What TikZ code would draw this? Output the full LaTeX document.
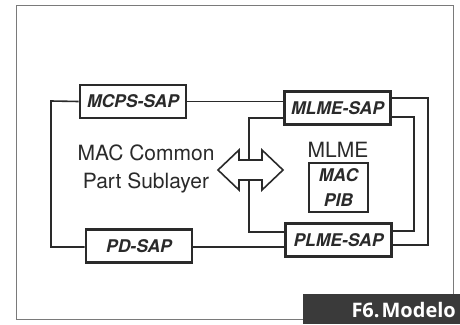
\documentclass[tikz,border=0pt]{standalone}
\usepackage{fontspec}
\setmainfont{TeX Gyre Heros}
\newfontfamily\labfont{Open Sans}
\definecolor{ink}{HTML}{2A2A2A}
\definecolor{framegray}{HTML}{7A7A7A}
\definecolor{tagbg}{HTML}{3A3A3A}
\begin{document}
\begin{tikzpicture}[x=1pt,y=-1pt,
  sapbox/.style={draw=ink,line width=2.8pt,fill=white,inner sep=0pt,
    minimum width=106pt,minimum height=33pt,
    font=\fontsize{17.5}{20}\selectfont\bfseries\itshape,text=ink},
  pibbox/.style={draw=ink,line width=2.8pt,fill=white,inner sep=0pt,
    minimum width=59pt,minimum height=49pt,align=center,
    font=\fontsize{17.5}{25}\selectfont\bfseries\itshape,text=ink},
  plain/.style={inner sep=0pt,align=center,text=ink,
    font=\fontsize{21}{28}\selectfont},
  conn/.style={draw=ink,line width=1.6pt},
  dblarrow/.style={draw=ink,line width=1.6pt,fill=white,line join=miter},
  tagtext/.style={inner sep=0pt,text=white,font=\labfont\bfseries\fontsize{20}{24}\selectfont}]
\useasboundingbox (0,0) rectangle (460,324);
\fill[white] (0,0) rectangle (460,324);
% outer frame
\draw[framegray,line width=0.9pt] (16,319) -- (16,5) -- (453,5) -- (453,294);
\draw[framegray,line width=0.9pt] (16,319) -- (303,319);
% nodes
\node[sapbox] (mcps) at (133,101.5) {MCPS-SAP};
\node[sapbox] (mlmesap) at (337.5,108) {MLME-SAP};
\node[sapbox] (pd) at (139,246) {PD-SAP};
\node[sapbox] (plmesap) at (338.5,240) {PLME-SAP};
\node[pibbox] (pib) at (338.5,187.5) {MAC\\PIB};
\node[plain] (mlme) at (338,150) {MLME};
\node[plain] (mcpsl) at (146,169) {MAC Common\\Part Sublayer};
% connector corners
\coordinate (lo) at (51,101);
\coordinate (ro) at (428,98);
\coordinate (li) at (249,118);
\coordinate (ri) at (414,117);
% outer loop
\draw[conn] (mcps.west) -- (lo) |- ([yshift=-1pt]pd.west);
\draw[conn] (mcps.east) -- (mcps.east -| mlmesap.west);
\draw[conn] ([yshift=10pt]mlmesap.east) -- (ro) |- ([yshift=-5pt]plmesap.east);
\draw[conn] ([yshift=-1pt]pd.east) -- ([yshift=-7pt]plmesap.west);
% inner loop
\draw[conn] ([yshift=-10pt]mlmesap.west) -- (li) |- ([yshift=8pt]plmesap.west);
\draw[conn] ([yshift=-9pt]mlmesap.east) -- (ri) |- ([yshift=9pt]plmesap.east);
% double arrow
\coordinate (atip1) at (218,170);
\coordinate (atip2) at (283,170);
\draw[dblarrow] (atip1) -- (239,150) -- (239,160) -- (262,160) -- (262,150)
  -- (atip2) -- (262,190) -- (262,180) -- (239,180) -- (239,190) -- cycle;
% tag
\fill[tagbg] (303,294) rectangle (460,324);
\node[tagtext,anchor=base east] (tag) at (456,317) {F6.\hspace{2pt}Modelo};
\end{tikzpicture}
\end{document}
